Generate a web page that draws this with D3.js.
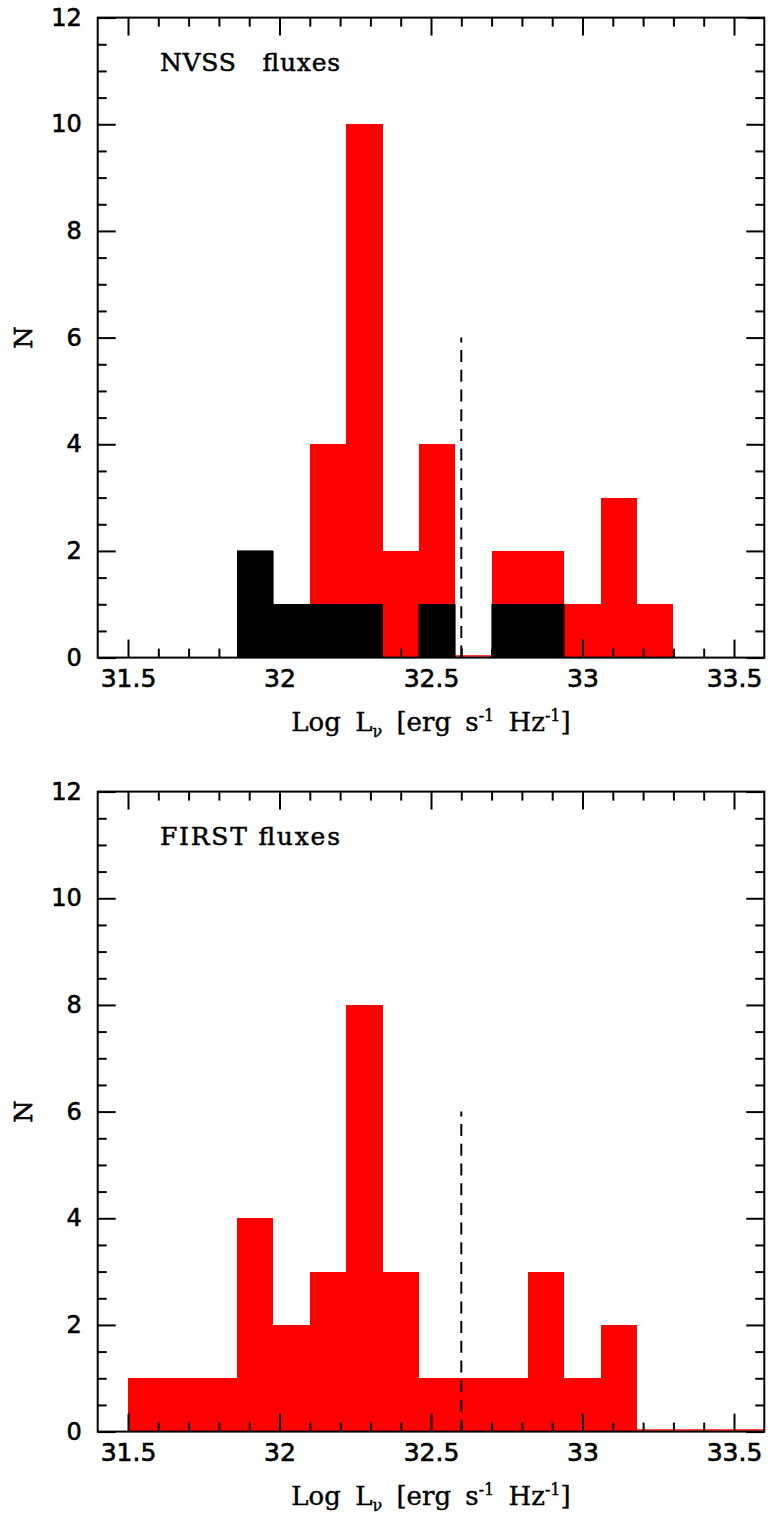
<!DOCTYPE html>
<html>
<head>
<meta charset="utf-8">
<script src="https://cdn.jsdelivr.net/npm/d3@7"></script>
<style>
  html, body { margin: 0; padding: 0; background: #fff; }
  svg { display: block; }
</style>
</head>
<body>
<svg id="chart" width="768" height="1517"></svg>
<script>
// ---------------- data ----------------
const binWidth = 0.12;
const nvssBinStarts = [31.86, 31.98, 32.10, 32.22, 32.34, 32.46, 32.58, 32.70, 32.82, 32.94, 33.06, 33.18];
const nvssAll   = [2, 1, 4, 10, 2, 4, 0, 2, 2, 1, 3, 1];
const nvssBlack = [2, 1, 1, 1, 0, 1, 0, 1, 1, 0, 0, 0];

const firstBinStarts = [31.50, 31.62, 31.74, 31.86, 31.98, 32.10, 32.22, 32.34, 32.46, 32.58, 32.70, 32.82, 32.94, 33.06, 33.18, 33.30, 33.42, 33.54];
const firstAll = [1, 1, 1, 4, 2, 3, 8, 3, 1, 1, 1, 3, 1, 2, 0, 0, 0, 0];

const xDomain = [31.4, 33.6];
const yDomain = [0, 12];
const xMajorTicks = [31.5, 32, 32.5, 33, 33.5];
const xTickLabels = ["31.5", "32", "32.5", "33", "33.5"];
const xMinorTicks = [31.6, 31.7, 31.8, 31.9, 32.1, 32.2, 32.3, 32.4, 32.6, 32.7, 32.8, 32.9, 33.1, 33.2, 33.3, 33.4];
const yMajorTicks = [0, 2, 4, 6, 8, 10, 12];
const yMinorTicks = [0.5, 1, 1.5, 2.5, 3, 3.5, 4.5, 5, 5.5, 6.5, 7, 7.5, 8.5, 9, 9.5, 10.5, 11, 11.5];
const cutLine = { x: 32.6, top: 6 };
const panelTitles = ["NVSS   fluxes", "FIRST fluxes"];

// ---------------- layout ----------------
const svg = d3.select("#chart");
const left = 97.7, right = 764.3;
const panelTop = [17.6, 791.6];
const panelH = 640;

function drawPanel(idx, starts, allCounts, blackCounts) {
  const top = panelTop[idx];
  const bottom = top + panelH;
  const x = d3.scaleLinear().domain(xDomain).range([left, right]);
  const y = d3.scaleLinear().domain(yDomain).range([bottom, top]);
  const g = svg.append("g");

  const clipId = "clip" + idx;
  svg.append("clipPath").attr("id", clipId)
    .append("rect").attr("x", left).attr("y", top).attr("width", right - left).attr("height", panelH);

  const plot = g.append("g").attr("clip-path", `url(#${clipId})`);

  function stepData(counts) {
    const pts = starts.map((s, i) => ({ x: s, v: counts[i] }));
    pts.push({ x: starts[starts.length - 1] + binWidth, v: counts[counts.length - 1] });
    return pts;
  }
  const area = d3.area()
    .curve(d3.curveStepAfter)
    .x(d => x(d.x))
    .y0(y(0))
    .y1(d => y(d.v));

  // red total histogram
  plot.append("path").datum(stepData(allCounts))
    .attr("d", area).attr("fill", "#ff0000").attr("stroke", "none")
    .attr("shape-rendering", "crispEdges");
  // zero bins of red histogram: thin red line on the baseline
  starts.forEach((s, i) => {
    if (allCounts[i] === 0) {
      plot.append("line")
        .attr("x1", x(s)).attr("x2", x(s + binWidth))
        .attr("y1", y(0) - 1.6).attr("y2", y(0) - 1.6)
        .attr("stroke", "#ff0000").attr("stroke-width", 1.5);
    }
  });
  // black sub-sample histogram
  if (blackCounts) {
    plot.append("path").datum(stepData(blackCounts))
      .attr("d", area).attr("fill", "#000").attr("stroke", "#000").attr("stroke-width", 0.6)
      .attr("shape-rendering", "crispEdges");
  }

  // dashed vertical line
  g.append("line")
    .attr("x1", x(cutLine.x)).attr("x2", x(cutLine.x))
    .attr("y1", y(0)).attr("y2", y(cutLine.top))
    .attr("stroke", "#000").attr("stroke-width", 2)
    .attr("stroke-dasharray", "12,7.7");

  // ticks (mirrored on all sides)
  const tickStyle = sel => {
    sel.select(".domain").remove();
    sel.selectAll(".tick line").attr("stroke", "#000").attr("stroke-width", 2);
  };
  const mk = (gen, tx, ty) => g.append("g").attr("transform", `translate(${tx},${ty})`).call(gen).call(tickStyle);
  const labelStyle = sel => sel.attr("font-family", "DejaVu Sans").attr("fill", "#000")
      .attr("stroke", "#000").attr("stroke-width", 0.6);

  // bottom
  const bottomMajor = mk(d3.axisBottom(x).tickValues(xMajorTicks).tickSizeInner(-18).tickSizeOuter(0).tickPadding(12)
      .tickFormat((d, i) => xTickLabels[i]), 0, bottom);
  bottomMajor.selectAll("text").call(labelStyle).attr("font-size", 25);
  mk(d3.axisBottom(x).tickValues(xMinorTicks).tickSizeInner(-9).tickSizeOuter(0).tickFormat(""), 0, bottom);
  // top
  mk(d3.axisTop(x).tickValues(xMajorTicks).tickSizeInner(-18).tickSizeOuter(0).tickFormat(""), 0, top);
  mk(d3.axisTop(x).tickValues(xMinorTicks).tickSizeInner(-9).tickSizeOuter(0).tickFormat(""), 0, top);
  // left
  const leftMajor = mk(d3.axisLeft(y).tickValues(yMajorTicks).tickSizeInner(-18).tickSizeOuter(0).tickPadding(16)
      .tickFormat(d3.format("d")), left, 0);
  leftMajor.selectAll("text").call(labelStyle).attr("font-size", 24);
  mk(d3.axisLeft(y).tickValues(yMinorTicks).tickSizeInner(-9).tickSizeOuter(0).tickFormat(""), left, 0);
  // right
  mk(d3.axisRight(y).tickValues(yMajorTicks).tickSizeInner(-18).tickSizeOuter(0).tickFormat(""), right, 0);
  mk(d3.axisRight(y).tickValues(yMinorTicks).tickSizeInner(-9).tickSizeOuter(0).tickFormat(""), right, 0);

  // frame
  g.append("rect").attr("x", left).attr("y", top).attr("width", right - left).attr("height", panelH)
    .attr("fill", "none").attr("stroke", "#000").attr("stroke-width", 2);

  // panel title
  g.append("text")
    .attr("x", 160).attr("y", top + 53.5)
    .attr("font-family", "DejaVu Serif").attr("font-size", 25)
    .attr("stroke", "#000").attr("stroke-width", 0.5)
    .attr("xml:space", "preserve").style("white-space", "pre")
    .attr("textLength", 180).attr("lengthAdjust", "spacing")
    .text(panelTitles[idx]);

  // y label
  g.append("text")
    .attr("transform", `translate(32, ${(top + bottom) / 2}) rotate(-90)`)
    .attr("text-anchor", "middle")
    .attr("font-family", "DejaVu Serif").attr("font-size", 25)
    .attr("stroke", "#000").attr("stroke-width", 0.7)
    .text("N");

  // x label
  const xl = g.append("text")
    .attr("x", (left + right) / 2).attr("y", bottom + 73)
    .attr("text-anchor", "middle")
    .attr("font-family", "DejaVu Serif").attr("font-size", 26)
    .attr("stroke", "#000").attr("stroke-width", 0.4)
    .attr("word-spacing", 6)
    .style("white-space", "pre");
  xl.append("tspan").text("Log L");
  xl.append("tspan").attr("font-size", 16).attr("dy", 6).text("ν");
  xl.append("tspan").attr("dy", -6).text(" [erg s");
  xl.append("tspan").attr("font-size", 16).attr("dy", -10).text("-1");
  xl.append("tspan").attr("dy", 10).text(" Hz");
  xl.append("tspan").attr("font-size", 16).attr("dy", -10).text("-1");
  xl.append("tspan").attr("dy", 10).text("]");
}

drawPanel(0, nvssBinStarts, nvssAll, nvssBlack);
drawPanel(1, firstBinStarts, firstAll, null);
</script>
</body>
</html>
